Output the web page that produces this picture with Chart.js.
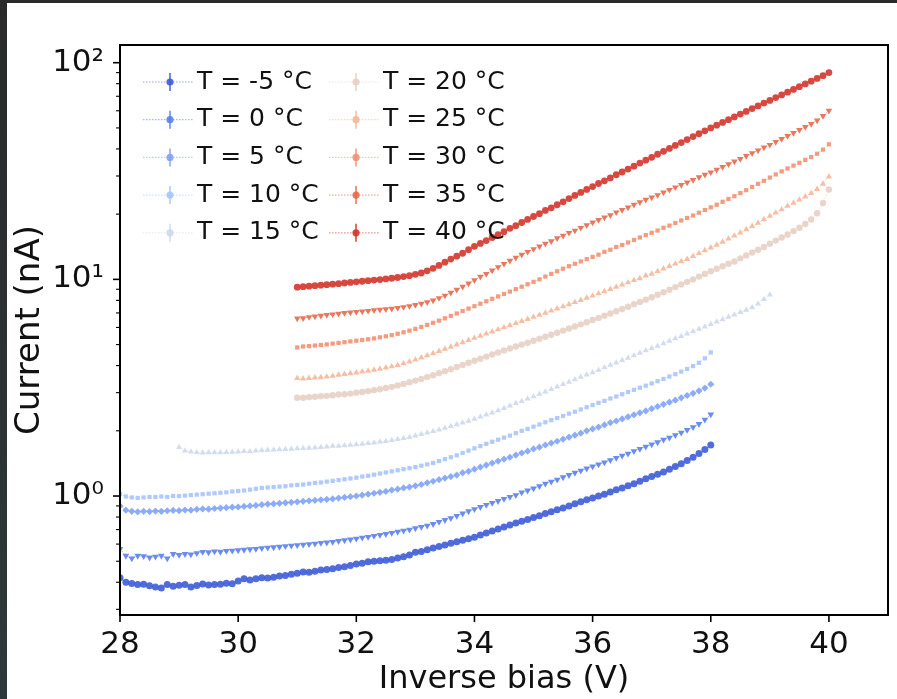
<!DOCTYPE html>
<html>
<head>
<meta charset="utf-8">
<script src="https://cdn.jsdelivr.net/npm/chart.js@4.4.1/dist/chart.umd.min.js"></script>
<style>
  html, body { margin: 0; padding: 0; width: 897px; height: 699px; overflow: hidden;
    background: linear-gradient(to bottom, #2a2a2a, #2e383a); }
  #wrap { position: absolute; left: 7px; top: 3px; width: 890px; height: 696px; background: #ffffff; }
  canvas { display: block; }
</style>
</head>
<body>
<div id="wrap"><canvas id="c" width="890" height="696" style="width:890px;height:696px"></canvas></div>
<script>
// ---- Data ----
const voltages = [28.0,28.1,28.2,28.3,28.4,28.5,28.6,28.7,28.8,28.9,
  29.0,29.1,29.2,29.3,29.4,29.5,29.6,29.7,29.8,29.9,
  30.0,30.1,30.2,30.3,30.4,30.5,30.6,30.7,30.8,30.9,
  31.0,31.1,31.2,31.3,31.4,31.5,31.6,31.7,31.8,31.9,
  32.0,32.1,32.2,32.3,32.4,32.5,32.6,32.7,32.8,32.9,
  33.0,33.1,33.2,33.3,33.4,33.5,33.6,33.7,33.8,33.9,
  34.0,34.1,34.2,34.3,34.4,34.5,34.6,34.7,34.8,34.9,
  35.0,35.1,35.2,35.3,35.4,35.5,35.6,35.7,35.8,35.9,
  36.0,36.1,36.2,36.3,36.4,36.5,36.6,36.7,36.8,36.9,
  37.0,37.1,37.2,37.3,37.4,37.5,37.6,37.7,37.8,37.9,
  38.0,38.1,38.2,38.3,38.4,38.5,38.6,38.7,38.8,38.9,
  39.0,39.1,39.2,39.3,39.4,39.5,39.6,39.7,39.8,39.9,
  40.0];

const seriesLabels = ['T = -5 °C','T = 0 °C','T = 5 °C','T = 10 °C','T = 15 °C',
                      'T = 20 °C','T = 25 °C','T = 30 °C','T = 35 °C','T = 40 °C'];
// first voltage of each series (index into voltages)
const seriesStartV = [28.0,28.0,28.0,28.0,29.0,31.0,31.0,31.0,31.0,31.0];

const currentM5 = [0.42,0.40,0.395,0.39,0.392,0.385,0.38,0.376,0.39,0.383,
  0.387,0.39,0.38,0.386,0.393,0.388,0.39,0.392,0.396,0.394,
  0.405,0.415,0.41,0.415,0.42,0.418,0.422,0.428,0.43,0.435,
  0.44,0.446,0.445,0.45,0.455,0.458,0.462,0.468,0.472,0.478,
  0.485,0.49,0.497,0.50,0.503,0.505,0.51,0.518,0.525,0.535,
  0.55,0.555,0.565,0.575,0.585,0.595,0.605,0.615,0.625,0.635,
  0.645,0.66,0.675,0.69,0.705,0.72,0.735,0.75,0.765,0.78,
  0.795,0.81,0.83,0.845,0.865,0.88,0.90,0.92,0.94,0.96,
  0.98,1.00,1.02,1.045,1.07,1.09,1.115,1.14,1.17,1.20,
  1.23,1.26,1.29,1.33,1.37,1.41,1.46,1.51,1.57,1.64,
  1.72];
const current0 = [0.57,0.53,0.515,0.53,0.528,0.52,0.525,0.53,0.515,0.54,
  0.535,0.54,0.538,0.545,0.552,0.55,0.555,0.553,0.558,0.56,
  0.562,0.565,0.568,0.57,0.575,0.578,0.58,0.583,0.587,0.59,
  0.593,0.596,0.60,0.603,0.608,0.61,0.614,0.62,0.625,0.63,
  0.636,0.642,0.648,0.655,0.662,0.668,0.676,0.684,0.692,0.70,
  0.71,0.72,0.73,0.743,0.76,0.775,0.79,0.81,0.83,0.85,
  0.87,0.89,0.91,0.93,0.948,0.97,0.99,1.01,1.04,1.06,
  1.085,1.11,1.14,1.165,1.19,1.22,1.25,1.28,1.31,1.34,
  1.37,1.40,1.43,1.465,1.50,1.535,1.57,1.61,1.65,1.69,
  1.73,1.77,1.82,1.86,1.91,1.96,2.02,2.08,2.15,2.25,
  2.38];
const current5 = [0.90,0.86,0.85,0.845,0.85,0.848,0.852,0.85,0.855,0.858,
  0.856,0.862,0.86,0.868,0.872,0.87,0.876,0.88,0.884,0.888,
  0.89,0.895,0.90,0.905,0.912,0.918,0.92,0.925,0.93,0.935,
  0.94,0.945,0.95,0.955,0.96,0.965,0.97,0.978,0.985,0.993,
  1.00,1.01,1.02,1.03,1.04,1.05,1.065,1.075,1.09,1.10,
  1.115,1.13,1.15,1.17,1.19,1.21,1.23,1.25,1.28,1.30,
  1.33,1.36,1.39,1.42,1.45,1.48,1.51,1.545,1.58,1.61,
  1.65,1.68,1.72,1.755,1.79,1.83,1.87,1.91,1.95,2.00,
  2.04,2.08,2.13,2.18,2.22,2.27,2.32,2.37,2.42,2.47,
  2.53,2.59,2.65,2.71,2.77,2.84,2.91,2.98,3.06,3.15,
  3.28];
const current10 = [1.02,0.995,0.985,0.98,0.985,0.99,0.99,0.995,0.99,1.0,
  1.0,1.005,1.01,1.015,1.02,1.025,1.03,1.035,1.04,1.05,
  1.055,1.06,1.07,1.08,1.09,1.095,1.10,1.105,1.11,1.12,
  1.125,1.13,1.14,1.15,1.155,1.165,1.175,1.185,1.195,1.205,
  1.215,1.23,1.24,1.255,1.27,1.285,1.30,1.315,1.33,1.345,
  1.36,1.38,1.40,1.42,1.45,1.48,1.51,1.54,1.58,1.62,
  1.66,1.70,1.74,1.78,1.82,1.86,1.90,1.95,2.00,2.04,
  2.09,2.14,2.19,2.24,2.29,2.34,2.40,2.45,2.51,2.57,
  2.63,2.69,2.75,2.82,2.88,2.95,3.02,3.09,3.16,3.23,
  3.31,3.39,3.47,3.56,3.65,3.75,3.86,3.98,4.12,4.32,
  4.60];
const current15 = [1.68,1.62,1.60,1.59,1.585,1.59,1.588,1.59,1.592,1.595,
  1.60,1.61,1.605,1.62,1.625,1.63,1.635,1.64,1.645,1.65,
  1.655,1.66,1.665,1.67,1.68,1.69,1.70,1.70,1.71,1.72,
  1.73,1.74,1.75,1.76,1.78,1.79,1.81,1.83,1.85,1.87,
  1.90,1.93,1.96,1.99,2.02,2.06,2.10,2.14,2.18,2.22,
  2.27,2.32,2.37,2.42,2.48,2.54,2.61,2.68,2.74,2.81,
  2.88,2.96,3.03,3.11,3.19,3.28,3.36,3.45,3.54,3.63,
  3.72,3.82,3.92,4.02,4.12,4.23,4.34,4.45,4.57,4.69,
  4.81,4.93,5.06,5.19,5.33,5.47,5.61,5.75,5.90,6.05,
  6.21,6.37,6.53,6.70,6.87,7.05,7.23,7.42,7.72,8.10,
  8.50];
const current20 = [2.84,2.84,2.86,2.87,2.89,2.90,2.92,2.94,2.95,2.97,
  3.00,3.02,3.05,3.08,3.11,3.15,3.19,3.24,3.29,3.35,
  3.41,3.47,3.54,3.61,3.69,3.77,3.85,3.94,4.03,4.12,
  4.21,4.30,4.40,4.50,4.60,4.70,4.80,4.90,5.00,5.10,
  5.21,5.32,5.43,5.55,5.67,5.80,5.93,6.06,6.20,6.34,
  6.49,6.64,6.80,6.96,7.13,7.30,7.48,7.67,7.86,8.06,
  8.27,8.49,8.72,8.96,9.21,9.47,9.74,10.0,10.3,10.6,
  10.9,11.2,11.5,11.8,12.1,12.5,12.9,13.3,13.7,14.1,
  14.6,15.1,15.6,16.1,16.7,17.3,18.0,18.9,20.2,22.5,
  26.0];
const current25 = [3.50,3.48,3.50,3.52,3.53,3.55,3.58,3.62,3.65,3.68,
  3.71,3.75,3.78,3.82,3.86,3.91,3.96,4.02,4.09,4.17,
  4.26,4.35,4.45,4.55,4.66,4.77,4.88,5.00,5.12,5.24,
  5.36,5.48,5.61,5.74,5.87,6.00,6.13,6.27,6.41,6.55,
  6.70,6.85,7.00,7.16,7.32,7.49,7.66,7.84,8.02,8.21,
  8.40,8.60,8.80,9.01,9.22,9.44,9.67,9.90,10.1,10.4,
  10.6,10.9,11.2,11.5,11.8,12.1,12.4,12.8,13.2,13.6,
  14.0,14.4,14.9,15.4,15.9,16.4,17.0,17.6,18.2,18.9,
  19.6,20.3,21.0,21.8,22.5,23.3,24.1,25.0,26.1,27.6,
  29.8];
const current30 = [4.85,4.90,4.92,4.95,4.98,5.01,5.05,5.09,5.13,5.17,
  5.21,5.25,5.29,5.34,5.40,5.46,5.53,5.61,5.70,5.80,
  5.91,6.03,6.16,6.30,6.45,6.61,6.78,6.96,7.14,7.33,
  7.52,7.72,7.92,8.13,8.34,8.56,8.78,9.01,9.25,9.49,
  9.74,10.0,10.3,10.6,10.9,11.2,11.5,11.8,12.1,12.4,
  12.7,13.0,13.4,13.7,14.1,14.4,14.8,15.2,15.6,16.0,
  16.4,16.8,17.3,17.7,18.2,18.7,19.2,19.7,20.3,20.9,
  21.5,22.1,22.8,23.5,24.2,25.0,25.8,26.7,27.6,28.5,
  29.5,30.5,31.5,32.5,33.5,34.5,35.6,36.7,38.0,39.7,
  42.0];
const current35 = [6.60,6.62,6.70,6.75,6.80,6.85,6.90,6.95,7.00,7.04,
  7.08,7.12,7.16,7.20,7.24,7.28,7.32,7.38,7.45,7.53,
  7.62,7.73,7.85,8.00,8.20,8.42,8.68,8.96,9.26,9.58,
  9.92,10.3,10.6,11.0,11.4,11.8,12.2,12.6,13.0,13.4,
  13.8,14.2,14.6,15.0,15.5,15.9,16.4,16.8,17.3,17.8,
  18.3,18.8,19.3,19.8,20.4,20.9,21.5,22.1,22.7,23.3,
  23.9,24.5,25.2,25.9,26.6,27.3,28.0,28.8,29.6,30.4,
  31.2,32.1,33.0,34.0,35.0,36.0,37.1,38.2,39.4,40.6,
  41.8,43.1,44.5,45.9,47.4,48.9,50.5,52.2,54.2,56.8,
  60.0];
const current40 = [9.20,9.25,9.30,9.35,9.40,9.45,9.50,9.55,9.62,9.68,
  9.74,9.80,9.86,9.92,9.98,10.05,10.12,10.20,10.3,10.4,
  10.55,10.7,10.95,11.25,11.6,12.0,12.4,12.8,13.2,13.7,
  14.2,14.65,15.1,15.6,16.1,16.6,17.2,17.7,18.3,18.9,
  19.5,20.1,20.8,21.4,22.1,22.8,23.6,24.4,25.2,26.0,
  26.8,27.7,28.5,29.4,30.4,31.3,32.3,33.3,34.4,35.5,
  36.6,37.8,39.0,40.2,41.5,42.8,44.2,45.6,47.0,48.5,
  50.0,51.5,53.0,54.6,56.2,57.9,59.6,61.4,63.2,65.1,
  67.0,69.0,71.0,73.1,75.3,77.5,79.8,82.2,84.6,87.1,
  90.0];

const seriesValues = [currentM5, current0, current5, current10, current15,
                      current20, current25, current30, current35, current40];

const xTickValues = [28, 30, 32, 34, 36, 38, 40];
const yMajorTicks = [1, 10, 100];
const yMajorLabels = ['10⁰', '10¹', '10²'];
const yMinorTicks = [0.3,0.4,0.5,0.6,0.7,0.8,0.9, 2,3,4,5,6,7,8,9, 20,30,40,50,60,70,80,90];

// ---- Styles ----
const seriesColors = ['rgba(62,92,216,0.9)','rgba(88,126,234,0.88)','rgba(126,162,246,0.88)',
  'rgba(168,196,250,0.88)','rgba(205,216,234,0.88)','rgba(230,207,194,0.88)',
  'rgba(245,182,152,0.88)','rgba(241,144,112,0.88)','rgba(228,104,74,0.88)','rgba(212,54,44,0.9)'];
const seriesMarkers = ['circle','triangle','rectRot','rect','triangle','circle','triangle','rect','triangle','circle'];
const seriesRot = [0,180,0,0,0,0,0,0,180,0];
const seriesRadius = [3.5,3.9,3.6,3.0,3.5,3.2,3.6,3.0,3.8,3.4];
const FONT = "'DejaVu Sans', sans-serif";

const datasets = seriesValues.map((vals, k) => {
  const start = voltages.indexOf(seriesStartV[k]);
  const xs = voltages.slice(start, start + vals.length);
  return {
    label: seriesLabels[k],
    data: vals.map((v, i) => ({ x: xs[i], y: v })),
    borderColor: seriesColors[k].replace(/[\d.]+\)$/, '0.55)'),
    backgroundColor: seriesColors[k],
    borderWidth: 1,
    borderDash: [1.5, 1.5],
    pointStyle: seriesMarkers[k],
    pointRotation: seriesRot[k],
    pointRadius: seriesRadius[k],
    pointBorderWidth: 0,
    pointBackgroundColor: seriesColors[k],
    showLine: true,
    tension: 0
  };
});

const frameAndTicks = {
  id: 'frameAndTicks',
  afterDraw(chart) {
    const { ctx, chartArea: a, scales: { x, y } } = chart;
    ctx.save();
    ctx.strokeStyle = '#000';
    const seg = (x1, y1, x2, y2) => { ctx.beginPath(); ctx.moveTo(x1, y1); ctx.lineTo(x2, y2); ctx.stroke(); };
    ctx.lineWidth = 1.6;
    xTickValues.forEach(v => { const p = x.getPixelForValue(v); seg(p, a.bottom, p, a.bottom + 7); });
    yMajorTicks.forEach(v => { const p = y.getPixelForValue(v); seg(a.left - 7, p, a.left, p); });
    ctx.lineWidth = 1.1;
    yMinorTicks.forEach(v => { const p = y.getPixelForValue(v); seg(a.left - 4, p, a.left, p); });
    ctx.lineWidth = 2;
    ctx.strokeRect(a.left, a.top, a.right - a.left, a.bottom - a.top);
    ctx.restore();
  }
};

const legendPlugin = {
  id: 'mplLegend',
  afterDatasetsDraw(chart) {
    const { ctx, chartArea: a } = chart;
    ctx.save();
    ctx.font = "25px " + FONT;
    ctx.textBaseline = 'middle';
    ctx.textAlign = 'left';
    chart.data.datasets.forEach((ds, i) => {
      const col = Math.floor(i / 5), row = i % 5;
      const cx = a.left + 50 + col * 186;
      const cy = a.top + 37 + row * 37.7;
      ctx.strokeStyle = ds.borderColor;
      ctx.lineWidth = 1.2;
      ctx.setLineDash([1.5, 1.5]);
      ctx.beginPath(); ctx.moveTo(cx - 27, cy); ctx.lineTo(cx + 24, cy); ctx.stroke();
      ctx.setLineDash([]);
      ctx.strokeStyle = ds.backgroundColor;
      ctx.lineWidth = 1.6;
      ctx.beginPath(); ctx.moveTo(cx, cy - 9); ctx.lineTo(cx, cy + 9); ctx.stroke();
      ctx.fillStyle = ds.backgroundColor;
      ctx.beginPath(); ctx.arc(cx, cy, 3.6, 0, Math.PI * 2); ctx.fill();
      ctx.fillStyle = '#111';
      ctx.fillText(ds.label, cx + 27, cy);
    });
    ctx.restore();
  }
};

new Chart(document.getElementById('c'), {
  type: 'scatter',
  data: { datasets },
  options: {
    responsive: false,
    animation: false,
    events: [],
    layout: { padding: { top: 42, right: 9, left: 0, bottom: 0 } },
    plugins: { legend: { display: false }, tooltip: { enabled: false } },
    scales: {
      x: {
        type: 'linear', min: 28, max: 41,
        afterBuildTicks: (s) => { s.ticks = xTickValues.map(v => ({ value: v })); },
        afterFit: (s) => { s.height = 84; },
        grid: { display: false, drawTicks: false },
        border: { display: false },
        ticks: { color: '#111', font: { family: FONT, size: 31 }, padding: 11, maxRotation: 0, autoSkip: false },
        title: { display: true, text: 'Inverse bias (V)', color: '#111', font: { family: FONT, size: 32 }, padding: { top: 0, bottom: 0 } }
      },
      y: {
        type: 'logarithmic', min: 0.2824, max: 120.7,
        afterBuildTicks: (s) => { s.ticks = yMajorTicks.map(v => ({ value: v, major: true })); },
        afterFit: (s) => { s.width = 113; },
        grid: { display: false, drawTicks: false },
        border: { display: false },
        ticks: { color: '#111', font: { family: FONT, size: 31 }, padding: 16, autoSkip: false,
          callback: (v) => { const i = yMajorTicks.indexOf(v); return i >= 0 ? yMajorLabels[i] : ''; } },
        title: { display: true, text: 'Current (nA)', color: '#111', font: { family: FONT, size: 34 }, padding: { top: 3, bottom: 0 } }
      }
    }
  },
  plugins: [frameAndTicks, legendPlugin]
});
</script>
</body>
</html>
